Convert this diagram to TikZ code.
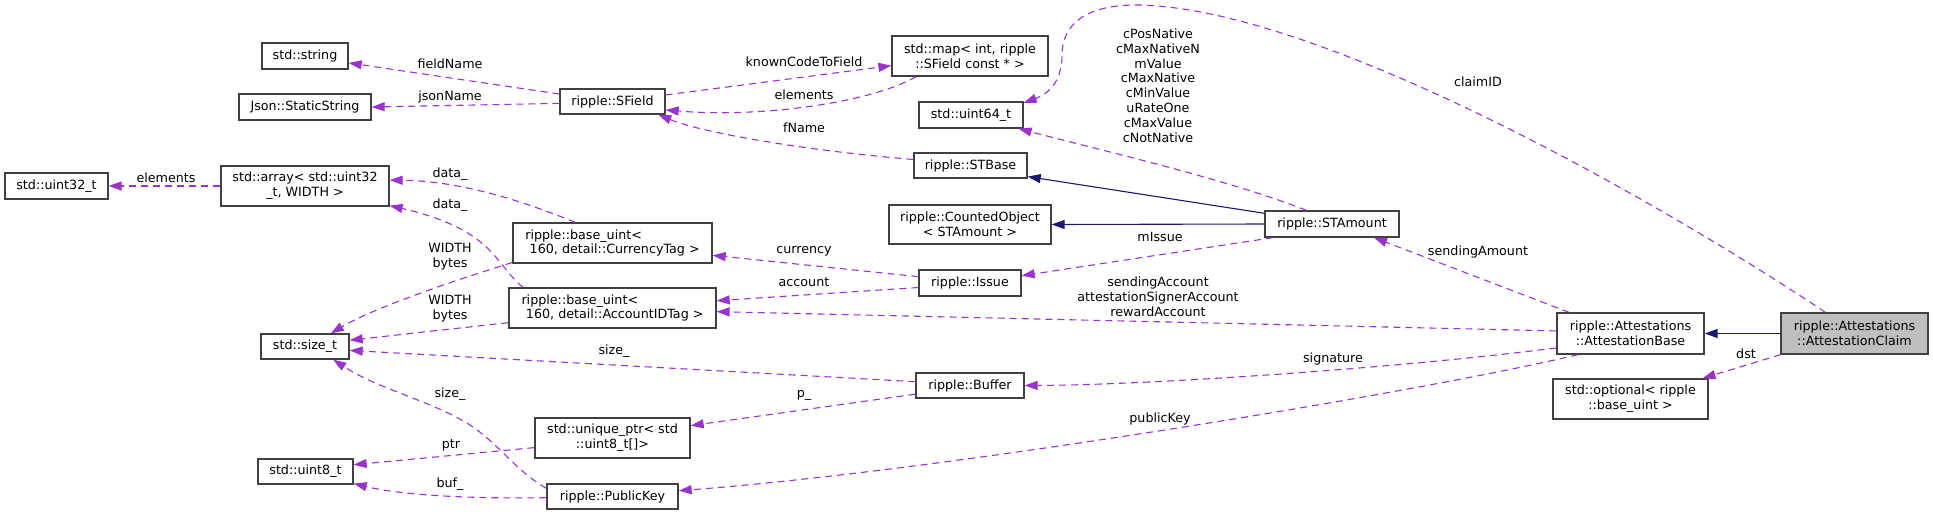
\documentclass[tikz,border=0pt]{standalone}
\usepackage{fontspec}
\setmainfont{DejaVu Sans}
\usetikzlibrary{arrows.meta}
\definecolor{usecol}{HTML}{9A32CD}
\definecolor{inhcol}{HTML}{191970}
\definecolor{boxcol}{HTML}{404040}
\definecolor{curfill}{HTML}{BFBFBF}
\newcommand\lbfont{\fontsize{12.7}{14.8}\selectfont}
\tikzset{
  cls/.style={draw=boxcol, line width=1.3pt, rectangle, inner sep=0pt, align=center, font=\lbfont, text=black},
  bx/.style 2 args={minimum width=#1pt, minimum height=#2pt},
  usedge/.style={draw=usecol, dash pattern=on 7pt off 5pt, line width=1.1pt, -{Triangle[length=13pt,width=9pt]}},
  inhedge/.style={draw=inhcol, line width=1.1pt, -{Triangle[length=13pt,width=9pt]}},
  lbl/.style={font=\lbfont, align=center, inner sep=0pt, text=black}
}
\begin{document}
\begin{tikzpicture}[x=1pt,y=-1pt]
\useasboundingbox (0,0) rectangle (1933,515);
% classes
\node[cls,bx={86}{26}] (string) at (305,56) {std::string};
\node[cls,bx={132}{26}] (json) at (305,107) {Json::StaticString};
\node[cls,bx={105}{25}] (sfield) at (612.5,101.5) {ripple::SField};
\node[cls,bx={103}{26}] (uint32) at (56.5,186) {std::uint32\_t};
\node[cls,bx={168}{40}] (array) at (305,186) {std::array< std::uint32\\\_t, WIDTH >};
\node[cls,bx={199}{40},align=left] (currency) at (612.5,243) {ripple::base\_uint<\\\hspace*{0.35em}160, detail::CurrencyTag >};
\node[cls,bx={207}{40},align=left] (account) at (612.5,308) {ripple::base\_uint<\\\hspace*{0.35em}160, detail::AccountIDTag >};
\node[cls,bx={88}{25}] (sizet) at (305,346.5) {std::size\_t};
\node[cls,bx={155}{40}] (uniqueptr) at (612.5,438) {std::unique\_ptr< std\\::uint8\_t[]>};
\node[cls,bx={95}{25}] (uint8) at (305.5,471.5) {std::uint8\_t};
\node[cls,bx={131}{25}] (publickey) at (612.5,496.5) {ripple::PublicKey};
\node[cls,bx={156}{40}] (map) at (970,56) {std::map< int, ripple\\::SField const * >};
\node[cls,bx={104}{26}] (uint64) at (971,115) {std::uint64\_t};
\node[cls,bx={113}{25}] (stbase) at (970.5,165.5) {ripple::STBase};
\node[cls,bx={162}{39}] (counted) at (970,224.5) {ripple::CountedObject\\< STAmount >};
\node[cls,bx={102}{26}] (issue) at (970,283) {ripple::Issue};
\node[cls,bx={108}{25}] (buffer) at (970,385.5) {ripple::Buffer};
\node[cls,bx={134}{26}] (stamount) at (1332,224) {ripple::STAmount};
\node[cls,bx={147}{41}] (attbase) at (1630.5,333.5) {ripple::Attestations\\::AttestationBase};
\node[cls,bx={147}{41},fill=curfill] (attclaim) at (1854.5,333.5) {ripple::Attestations\\::AttestationClaim};
\node[cls,bx={155}{40}] (optional) at (1630.5,399) {std::optional< ripple\\::base\_uint >};
% via points
\coordinate (ctop) at (1140,5);
\coordinate (cloop) at (1062,55);
\coordinate (cpk) at (470,425);
% connectors
\draw[usedge] (sfield.172) -- (string.-9);
\draw[usedge] (sfield.182) -- (json.east);
\draw[usedge] (sfield.7) -- (map.187);
\draw[usedge] (map.201) .. controls (870,103) and (760,118) .. (sfield.-9);
\draw[usedge] (stbase.174) .. controls (800,150) and (700,132) .. (sfield.-16);
\draw[usedge] (stamount.152) .. controls (1230,180) and (1100,150) .. (uint64.-16);
\draw[usedge] (attclaim.144) .. controls (1680,215) and (1330,10) .. (ctop) .. controls (1085,4) and (1062,25) .. (cloop) .. controls (1062,85) and (1045,95) .. (uint64.13);
\draw[inhedge] (stamount.171) -- (stbase.-11);
\draw[inhedge] (stamount.west) -- (counted.east);
\draw[usedge] (stamount.193) -- (issue.8);
\draw[usedge] (issue.173) -- (currency.-7);
\draw[usedge] (issue.185) -- (account.4);
\draw[usedge] (attbase.178) -- (account.-2);
\draw[usedge] (attbase.161) -- (stamount.-18);
\draw[usedge] (attbase.191) .. controls (1400,368) and (1150,385) .. (buffer.east);
\draw[usedge] (attbase.202) .. controls (1420,392) and (950,470) .. (publickey.5);
\draw[inhedge] (attclaim.west) -- (attbase.east);
\draw[usedge] (attclaim.196) -- (optional.16);
\draw[usedge] (buffer.176) -- (sizet.-5);
\draw[usedge] (buffer.189) -- (uniqueptr.9);
\draw[usedge] (publickey.173) .. controls (515,470) and (500,445) .. (cpk) .. controls (430,400) and (380,390) .. (sizet.-25);
\draw[usedge] (publickey.181) .. controls (470,499) and (400,495) .. (uint8.-14);
\draw[usedge] (uniqueptr.187) -- (uint8.8);
\draw[usedge] (account.188) -- (sizet.8);
\draw[usedge] (currency.191) .. controls (440,285) and (370,310) .. (sizet.27);
\draw[usedge] (currency.151) .. controls (520,200) and (460,181) .. (array.4);
\draw[usedge] (account.167) .. controls (495,265) and (495,230) .. (array.-13);
\draw[usedge] (array.west) -- (uint32.east);
% labels
\node[lbl] (l1) at (450,64) {fieldName};
\node[lbl] (l2) at (450,97) {jsonName};
\node[lbl] (l3) at (166,178) {elements};
\node[lbl] (l4) at (450,174) {data\_};
\node[lbl] (l5) at (450,205) {data\_};
\node[lbl] (l6) at (450,257) {WIDTH\\bytes};
\node[lbl] (l7) at (450,309) {WIDTH\\bytes};
\node[lbl] (l8) at (614,351) {size\_};
\node[lbl] (l9) at (450,394) {size\_};
\node[lbl] (l10) at (451,445) {ptr};
\node[lbl] (l11) at (450,484) {buf\_};
\node[lbl] (l12) at (804,62) {knownCodeToField};
\node[lbl] (l13) at (804,95) {elements};
\node[lbl] (l14) at (804,128) {fName};
\node[lbl] (l15) at (804,251) {currency};
\node[lbl] (l16) at (804,282) {account};
\node[lbl] (l17) at (804,395) {p\_};
\node[lbl] (l18) at (1158,85.5) {cPosNative\\cMaxNativeN\\mValue\\cMaxNative\\cMinValue\\uRateOne\\cMaxValue\\cNotNative};
\node[lbl] (l19) at (1160,237) {mIssue};
\node[lbl] (l20) at (1158,297) {sendingAccount\\attestationSignerAccount\\rewardAccount};
\node[lbl] (l21) at (1160,419) {publicKey};
\node[lbl] (l22) at (1478,82) {claimID};
\node[lbl] (l23) at (1478,252) {sendingAmount};
\node[lbl] (l24) at (1333,359) {signature};
\node[lbl] (l25) at (1746,354) {dst};
\end{tikzpicture}
\end{document}
